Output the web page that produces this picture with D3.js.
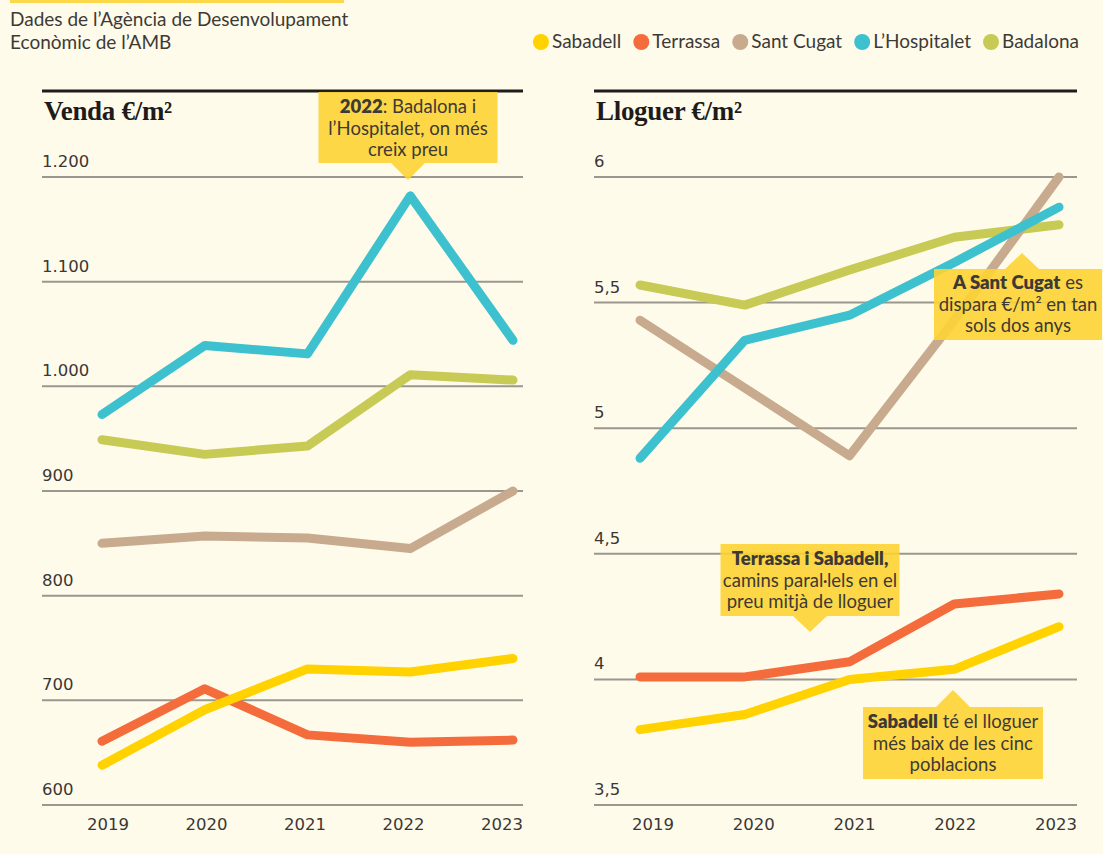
<!DOCTYPE html>
<html lang="ca">
<head>
<meta charset="UTF-8">
<title>Venda i lloguer €/m²</title>
<script src="https://d3js.org/d3.v7.min.js"></script>
<style>
  html, body { margin: 0; padding: 0; background: #fffbeb; }
  svg { display: block; }
  .txt { font-family: Lato, "Open Sans", sans-serif; fill: #3d3a36; }
  .num { font-family: "DejaVu Sans", sans-serif; fill: #3a3734; }
  .ttl { font-family: "Liberation Serif", serif; font-weight: 700; fill: #1e1c1a; }
</style>
</head>
<body>
<svg id="chart" width="1103" height="854"></svg>
<script>
const years = [2019, 2020, 2021, 2022, 2023];
const cities = ["Sabadell", "Terrassa", "Sant Cugat", "L\u2019Hospitalet", "Badalona"];
const colors = ["#ffd200", "#f46c3c", "#c8ab8f", "#3ec1cf", "#c7ca55"];
// draw order: first drawn is at the bottom
const drawOrder = [4, 2, 3, 1, 0];

// Venda €/m²
const vendaSabadell    = [638, 691, 730, 727, 740];
const vendaTerrassa    = [661, 711, 667, 660, 662];
const vendaSantCugat   = [850, 857, 855, 845, 900];
const vendaHospitalet  = [973, 1039, 1031, 1182, 1044];
const vendaBadalona    = [949, 935, 943, 1011, 1006];
const vendaTicks = [600, 700, 800, 900, 1000, 1100, 1200];

// Lloguer €/m²
const lloguerSabadell   = [3.80, 3.86, 4.00, 4.04, 4.21];
const lloguerTerrassa   = [4.01, 4.01, 4.07, 4.30, 4.34];
const lloguerSantCugat  = [5.43, 5.16, 4.89, 5.43, 6.00];
const lloguerHospitalet = [4.88, 5.35, 5.45, 5.66, 5.88];
const lloguerBadalona   = [5.57, 5.49, 5.63, 5.76, 5.81];
const lloguerTicks = [3.5, 4, 4.5, 5, 5.5, 6];

const svg = d3.select("#chart");

// small yellow strip on top
svg.append("rect").attr("x", 10).attr("y", 0).attr("width", 334).attr("height", 3).attr("fill", "#fdd84a");

// source
svg.append("text").attr("class", "txt").attr("x", 10).attr("y", 26)
  .style("font-size", "19px").text("Dades de l\u2019Agència de Desenvolupament");
svg.append("text").attr("class", "txt").attr("x", 10).attr("y", 49)
  .style("font-size", "19px").text("Econòmic de l\u2019AMB");

// legend, right aligned
const legend = svg.append("g");
let lx = 0;
cities.forEach((c, i) => {
  const g = legend.append("g").attr("transform", `translate(${lx},0)`);
  g.append("circle").attr("cx", 8).attr("cy", 42).attr("r", 8).attr("fill", colors[i]);
  const t = g.append("text").attr("class", "txt").attr("x", 19).attr("y", 48)
    .style("font-size", "19px").text(c);
  lx += 19 + t.node().getComputedTextLength() + 12;
});
legend.attr("transform", `translate(${1079 - (lx - 12)},0)`);

function panel(opts) {
  const g = svg.append("g");
  const x = d3.scalePoint().domain(years).range(opts.xRange);
  const xl = d3.scalePoint().domain(years).range(opts.labelRange);
  const y = d3.scaleLinear().domain(opts.domain).range([805, 177]);

  // top rule
  g.append("line").attr("x1", opts.left).attr("x2", opts.right)
    .attr("y1", 91).attr("y2", 91).attr("stroke", "#1f1d1b").attr("stroke-width", 3);
  g.append("text").attr("class", "ttl").attr("x", opts.left + 2).attr("y", 120)
    .style("font-size", "27px").style("letter-spacing", "-0.3px").text(opts.title);

  // grid
  g.selectAll(".grid").data(opts.ticks).join("line")
    .attr("x1", opts.left).attr("x2", opts.right)
    .attr("y1", d => y(d)).attr("y2", d => y(d))
    .attr("stroke", "#9c978e").attr("stroke-width", 2);
  g.selectAll(".tick").data(opts.ticks).join("text")
    .attr("class", "num").attr("x", opts.left).attr("y", d => y(d) - 10)
    .style("font-size", "16.5px").text(opts.fmt);

  // years
  g.selectAll(".yr").data(years).join("text")
    .attr("class", "num").attr("x", d => xl(d)).attr("y", 830)
    .attr("text-anchor", "middle").style("font-size", "16.5px").text(d => d);

  const line = d3.line().x((d, i) => x(years[i])).y(d => y(d));
  drawOrder.forEach(i => {
    g.append("path").attr("d", line(opts.series[i]))
      .attr("fill", "none").attr("stroke", colors[i]).attr("stroke-width", 9)
      .attr("stroke-linecap", "round").attr("stroke-linejoin", "round");
  });
}

const fmtVenda = d => d3.format(",")(d).replace(",", ".");
const fmtLloguer = d => String(d).replace(".", ",");

panel({
  title: "Venda €/m²", left: 42, right: 523,
  xRange: [102, 513], labelRange: [108, 502],
  domain: [600, 1200], ticks: vendaTicks, fmt: fmtVenda,
  series: [vendaSabadell, vendaTerrassa, vendaSantCugat, vendaHospitalet, vendaBadalona]
});
panel({
  title: "Lloguer €/m²", left: 594, right: 1077,
  xRange: [640, 1059], labelRange: [653, 1056],
  domain: [3.5, 6], ticks: lloguerTicks, fmt: fmtLloguer,
  series: [lloguerSabadell, lloguerTerrassa, lloguerSantCugat, lloguerHospitalet, lloguerBadalona]
});

// annotation boxes
function note(o) {
  const g = svg.append("g");
  const x0 = o.cx - o.w / 2, x1 = o.cx + o.w / 2;
  let d;
  if (o.tip === "down") {
    d = `M${x0},${o.top}H${x1}V${o.bottom}H${o.tipX + 17}L${o.tipX},${o.tipY}L${o.tipX - 17},${o.bottom}H${x0}Z`;
  } else {
    d = `M${x0},${o.top}H${o.tipX - 17}L${o.tipX},${o.tipY}L${o.tipX + 17},${o.top}H${x1}V${o.bottom}H${x0}Z`;
  }
  g.append("path").attr("d", d).attr("fill", "#fdd333").attr("opacity", 0.9);
  o.lines.forEach((ln, i) => {
    const t = g.append("text").attr("class", "txt").attr("x", o.cx).attr("y", o.y0 + i * 21.5)
      .attr("text-anchor", "middle").style("font-size", "18.5px");
    ln.forEach(([s, b]) => t.append("tspan").style("font-weight", b ? 800 : 400).text(s));
  });
}

note({ cx: 408, w: 179, top: 92, bottom: 163, tip: "down", tipX: 408, tipY: 180, y0: 113,
  lines: [[["2022", 1], [": Badalona i", 0]], [["l\u2019Hospitalet, on més", 0]], [["creix preu", 0]]] });
note({ cx: 1018, w: 168, top: 269, bottom: 340, tip: "up", tipX: 1022, tipY: 253, y0: 289,
  lines: [[["A Sant Cugat", 1], [" es", 0]], [["dispara €/m² en tan", 0]], [["sols dos anys", 0]]] });
note({ cx: 810, w: 179, top: 544, bottom: 616, tip: "down", tipX: 810, tipY: 632, y0: 565,
  lines: [[["Terrassa i Sabadell,", 1]], [["camins paral·lels en el", 0]], [["preu mitjà de lloguer", 0]]] });
note({ cx: 953, w: 180, top: 707, bottom: 779, tip: "up", tipX: 953, tipY: 690, y0: 728,
  lines: [[["Sabadell", 1], [" té el lloguer", 0]], [["més baix de les cinc", 0]], [["poblacions", 0]]] });
</script>
</body>
</html>
